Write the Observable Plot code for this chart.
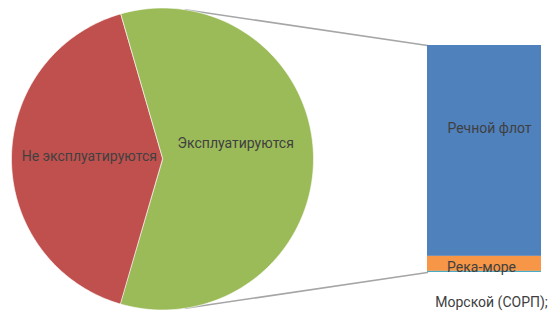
<!DOCTYPE html>
<html>
<head>
<meta charset="utf-8">
<script src="https://cdn.jsdelivr.net/npm/d3@7"></script>
<script src="https://cdn.jsdelivr.net/npm/@observablehq/plot@0.6"></script>
<style>
  html, body { margin: 0; padding: 0; background: #fff; }
  #chart { width: 555px; height: 312px; }
</style>
</head>
<body>
<div id="chart"></div>
<script>
// Pie data (share of fleet, %)
const pieCategories = ["Эксплуатируются", "Не эксплуатируются"];
const pieValues = [59, 41];
const pieColors = ["#9BBB59", "#C0504D"];

// Bar (breakdown of the operated fleet, %), stacked top to bottom
const barCategories = ["Речной флот", "Река-море", "Морской (СОРП);"];
const barValues = [92.9, 6.6, 0.5];
const barColors = ["#4F81BD", "#F79646", "#4BACC6"];

// Layout (pixels)
const W = 555, H = 312;
const cx = 162, cy = 158.5, R = 151;
const barX1 = 427, barX2 = 541, barTop = 45, barBottom = 272;

// Pie geometry via d3.pie; split slice (first) centred on the right
const angleFirst = 2 * Math.PI * pieValues[0] / d3.sum(pieValues);
const a0 = Math.PI / 2 - angleFirst / 2;
const pie = d3.pie().sort(null).startAngle(a0).endAngle(a0 + 2 * Math.PI);
const arcs = pie(pieValues);
const pt = (a, r) => ({x: cx + r * Math.sin(a), y: cy - r * Math.cos(a)});

const slicePts = arcs.map((a, i) => {
  const pts = [{x: cx, y: cy}];
  const n = 120;
  for (let j = 0; j <= n; j++) {
    const t = a.startAngle + (a.endAngle - a.startAngle) * j / n;
    pts.push(pt(t, R));
  }
  return pts;
});

// Bar segments stacked from the top
const total = d3.sum(barValues);
let cum = 0;
const segs = barValues.map((v, i) => {
  const y1 = barTop + (cum / total) * (barBottom - barTop);
  cum += v;
  const y2 = barTop + (cum / total) * (barBottom - barTop);
  return {name: barCategories[i], y1, y2, color: barColors[i]};
});

// Connector lines from pie rim to bar corners
const connA = 8.7 * Math.PI / 180;
const connectors = [
  [pt(connA, R), {x: barX1, y: barTop}],
  [pt(Math.PI - connA, R), {x: barX1, y: barBottom}]
];

// Labels
const pieLabels = arcs.map((a, i) => {
  const mid = (a.startAngle + a.endAngle) / 2;
  const p = pt(mid, R * 0.485);
  return {text: pieCategories[i], x: p.x, y: p.y + (i === 0 ? -15 : -2)};
});
const barLabels = [
  {text: barCategories[0], x: 489, y: (segs[0].y1 + segs[0].y2) / 2 - 22},
  {text: barCategories[1], x: 481, y: (segs[1].y1 + segs[1].y2) / 2 + 4},
  {text: barCategories[2], x: 491, y: barBottom + 30}
];

const chart = Plot.plot({
  width: W, height: H,
  margin: 0,
  x: {domain: [0, W], range: [0, W], axis: null},
  y: {domain: [0, H], range: [0, H], axis: null},
  style: {fontFamily: "Roboto, sans-serif", background: "#fff"},
  marks: [
    ...connectors.map(c => Plot.line(c, {x: "x", y: "y", stroke: "#A6A6A6", strokeWidth: 1.5})),
    ...slicePts.map((pts, i) => Plot.line(pts, {x: "x", y: "y", fill: pieColors[i], stroke: "#fff", strokeWidth: 0.6, curve: "linear-closed"})),
    Plot.rect(segs, {x1: () => barX1, x2: () => barX2, y1: "y1", y2: "y2", fill: "color"}),
    Plot.text(pieLabels, {x: "x", y: "y", text: "text", fill: "#404040", fontSize: 14}),
    Plot.text(barLabels, {x: "x", y: "y", text: "text", fill: "#404040", fontSize: 14})
  ]
});
document.getElementById("chart").appendChild(chart);
</script>
</body>
</html>
